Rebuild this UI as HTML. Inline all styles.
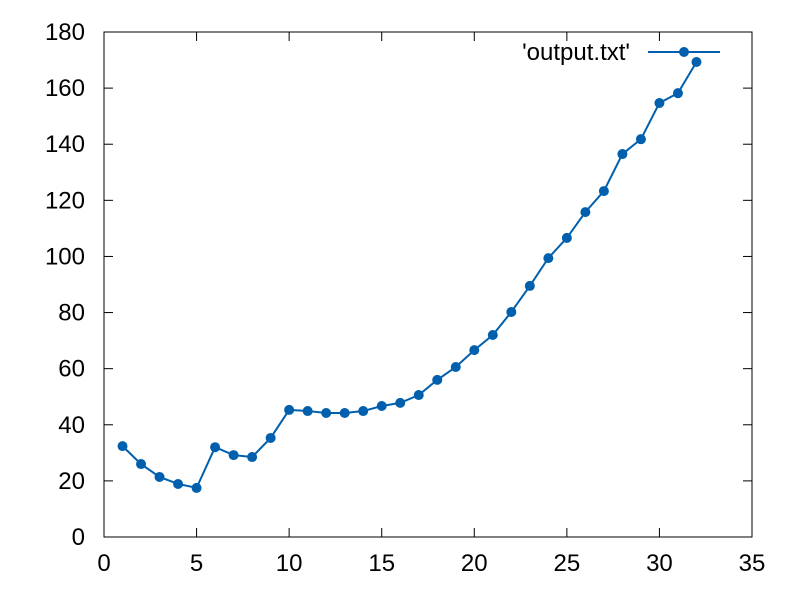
<!DOCTYPE html>
<html><head><meta charset="utf-8"><style>
html,body{margin:0;padding:0;background:#fff;}
svg{display:block;font-family:"Liberation Sans",sans-serif;}
</style></head><body>
<svg id="chart" width="800" height="600" viewBox="0 0 800 600">
<rect x="0" y="0" width="800" height="600" fill="#fff"/>
<g id="grid"></g>
<rect x="104" y="32" width="648" height="505" fill="none" stroke="#000" stroke-width="1"/>
<g id="series"></g>
<g>
<text x="630" y="60" text-anchor="end" font-size="24">'output.txt'</text>
<line x1="648" y1="52" x2="720" y2="52" stroke="#0060ad" stroke-width="2"/>
<circle cx="684" cy="52" r="5" fill="#0060ad"/>
</g>
</svg>
<script>
const xValues=[1,2,3,4,5,6,7,8,9,10,11,12,13,14,15,16,17,18,19,20,21,22,23,24,25,26,27,28,29,30,31,32];
const yValues=[32.4,26,21.4,18.9,17.5,32,29.2,28.5,35.3,45.3,44.9,44.2,44.2,44.9,46.7,47.8,50.6,56,60.6,66.6,72,80.2,89.5,99.4,106.6,115.8,123.3,136.5,141.8,154.7,158.2,169.3];
const xTicks=[0,5,10,15,20,25,30,35];
const yTicks=[0,20,40,60,80,100,120,140,160,180];
const NS="http://www.w3.org/2000/svg";
const L=104,R=752,T=32,B=537;
const xs=v=>L+(v-0)/35*(R-L);
const ys=v=>B-(v-0)/180*(B-T);
const grid=document.getElementById('grid');
const ser=document.getElementById('series');
function mk(tag,attrs,parent){const e=document.createElementNS(NS,tag);for(const k in attrs)e.setAttribute(k,attrs[k]);parent.appendChild(e);return e;}
xTicks.forEach(t=>{
  const x=xs(t);
  const a=mk('line',{x1:x,y1:B,x2:x,y2:B-9,stroke:'#000'},grid);
  
  
  const b=mk('line',{x1:x,y1:T,x2:x,y2:T+9,stroke:'#000'},grid);
  
  
  const tx=mk('text',{x:x,y:B+34,'text-anchor':'middle','font-size':24},grid);
  tx.textContent=t;
  
  
});
yTicks.forEach(t=>{
  const y=ys(t);
  const a=mk('line',{x1:L,y1:y,x2:L+9,y2:y,stroke:'#000'},grid);
  
  
  const b=mk('line',{x1:R,y1:y,x2:R-9,y2:y,stroke:'#000'},grid);
  
  
  const tx=mk('text',{x:85,y:y+8,'text-anchor':'end','font-size':24},grid);
  tx.textContent=t;
  
  
});
const pts=xValues.map((x,i)=>xs(x)+','+ys(yValues[i])).join(' ');
const pl=mk('polyline',{points:pts,fill:'none',stroke:'#0060ad','stroke-width':2},ser);


xValues.forEach((x,i)=>{
  const c=mk('circle',{cx:xs(x),cy:ys(yValues[i]),r:5,fill:'#0060ad'},ser);
  
  
});
</script>
</body></html>
